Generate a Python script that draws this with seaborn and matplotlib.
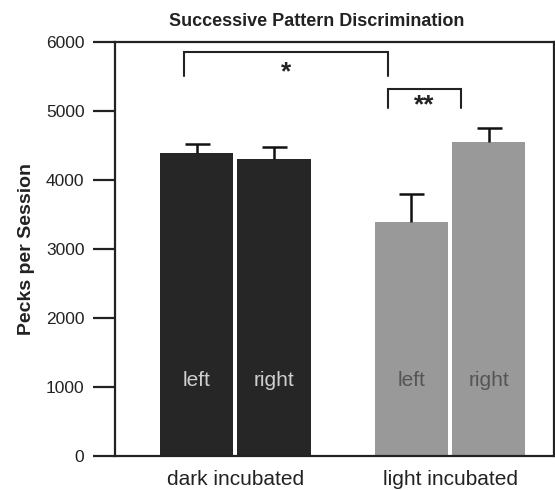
import pandas as pd
import matplotlib
matplotlib.use("Agg")
import matplotlib.pyplot as plt
import seaborn as sns

# values
groups = ["dark incubated", "light incubated"]
sides = ["left", "right"]
pecks = [[4390, 4300], [3390, 4550]]   # [group][side]
sem = [[130, 175], [405, 205]]
group_colors = ["#262626", "#999999"]
label_colors = ["#cfcfcf", "#555555"]

# significance brackets: (bar a, bar b, offset a, offset b, top, drop, text)
brackets = [
    ((0, 0), (1, 0), -0.06, -0.11, 5855, 350, "*"),
    ((1, 0), (1, 1), -0.11, -0.13, 5320, 280, "**"),
]

rows = []
for gi, g in enumerate(groups):
    for si, s in enumerate(sides):
        rows.append({"group": g, "side": s, "pecks": pecks[gi][si]})
df = pd.DataFrame(rows)

sns.set_style("white")
plt.rcParams["font.family"] = ["Liberation Sans", "DejaVu Sans"]

fig = plt.figure(figsize=(5.55, 4.9), dpi=100)
ax = fig.add_axes([115 / 555, 34 / 490, 439 / 555, 414 / 490])

sns.barplot(data=df, x="group", y="pecks", hue="side", order=groups,
            hue_order=sides, width=0.72, gap=0.05, errorbar=None,
            legend=False, palette=["#999999", "#999999"], ax=ax)

bar_sets = list(ax.containers)
centers = {}
for si, cont in enumerate(bar_sets):
    for gi, bar in enumerate(cont):
        bar.set_facecolor(group_colors[gi])
        bar.set_edgecolor("none")
        cx = bar.get_x() + bar.get_width() / 2
        centers[(gi, si)] = cx
        _, caps, _ = ax.errorbar(cx, pecks[gi][si], yerr=[[0], [sem[gi][si]]],
                                 fmt="none", ecolor="#111111", elinewidth=1.8,
                                 capsize=9, capthick=1.8, zorder=1)
        caps[0].set_visible(False)   # only the upper cap
        ax.text(cx, 1100, sides[si], ha="center", va="center", fontsize=15,
                color=label_colors[gi])

for a, b, oa, ob, top, drop, txt in brackets:
    xa = centers[a] + oa
    xb = centers[b] + ob
    ax.plot([xa, xa, xb, xb], [top - drop, top, top, top - drop],
            color="#222222", lw=1.5, solid_joinstyle="miter")
    ax.text((xa + xb) / 2, top - 0.85 * drop, txt, ha="center", va="center",
            fontsize=19, fontweight="bold", color="#222222")

ax.set_ylim(0, 6000)
ax.set_xlim(-0.56, 1.484)
ax.set_yticks(range(0, 6001, 1000))
ax.set_xlabel("")
ax.set_ylabel("Pecks per Session", fontsize=14, fontweight="bold",
              color="#222222", labelpad=8)
ax.tick_params(axis="y", direction="out", length=16, width=1.6,
               labelsize=12.5, pad=6, colors="#222222", left=True)
ax.tick_params(axis="x", length=0, labelsize=15, pad=10, colors="#222222")
for sp in ax.spines.values():
    sp.set_visible(True)
    sp.set_color("#222222")
    sp.set_linewidth(1.6)

fig.text(317 / 555, 1 - 21 / 490, "Successive Pattern Discrimination",
         ha="center", va="center", fontsize=13, fontweight="bold",
         color="#222222")

fig.savefig("out.png", dpi=100)
